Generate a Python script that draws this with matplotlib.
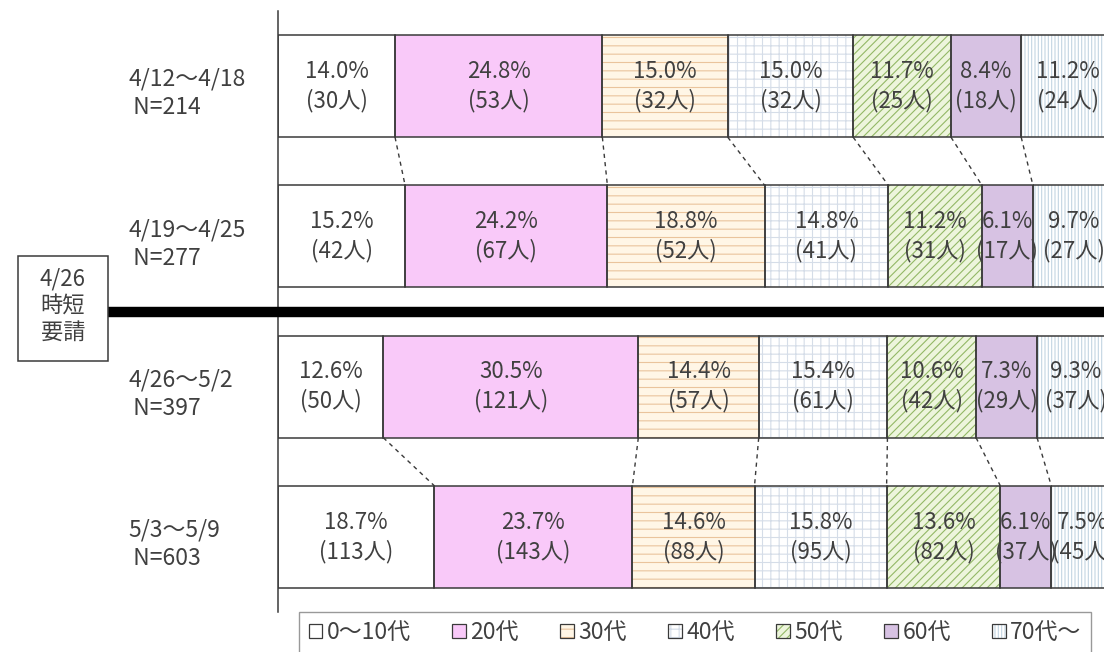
import matplotlib.pyplot as plt
from matplotlib.patches import Patch, Rectangle
from matplotlib.legend_handler import HandlerTuple
import numpy as np

plt.rcParams['font.family'] = ['Noto Sans CJK JP', 'DejaVu Sans']
plt.rcParams['hatch.linewidth'] = 0.8

# data
periods = ['4/12〜4/18', '4/19〜4/25', '4/26〜5/2', '5/3〜5/9']
totals = [214, 277, 397, 603]
ages = ['0〜10代', '20代', '30代', '40代', '50代', '60代', '70代〜']
pct_1 = [14.0, 24.8, 15.0, 15.0, 11.7, 8.4, 11.2]
pct_2 = [15.2, 24.2, 18.8, 14.8, 11.2, 6.1, 9.7]
pct_3 = [12.6, 30.5, 14.4, 15.4, 10.6, 7.3, 9.3]
pct_4 = [18.7, 23.7, 14.6, 15.8, 13.6, 6.1, 7.5]
people_1 = [30, 53, 32, 32, 25, 18, 24]
people_2 = [42, 67, 52, 41, 31, 17, 27]
people_3 = [50, 121, 57, 61, 42, 29, 37]
people_4 = [113, 143, 88, 95, 82, 37, 45]
event_label = '4/26\n時短\n要請'

pct = np.array([pct_1, pct_2, pct_3, pct_4])
people = [people_1, people_2, people_3, people_4]

# styles
face_colors = ['white', '#F9C9F9', '#FFF6E6', 'white', '#EDF5DC', '#D7C2E3', 'white']
hatches = [None, None, '--', '++', '////', None, '|||||']
hatch_colors = ['white', '#F9C9F9', '#EAC49C', '#D5DDE8', '#93B866', '#D7C2E3', '#C3D5E2']
edge = '#3A3A3A'
txt = '#404040'
bar_h = 0.68

fig = plt.figure(figsize=(11.04, 6.52), dpi=100)
ax = fig.add_axes([278 / 1104, 1 - 612 / 652, 836 / 1104, 601 / 652])

ypos = np.arange(len(periods))
lefts = np.zeros(len(periods))
for j in range(len(ages)):
    ax.barh(ypos, pct[:, j], left=lefts, height=bar_h, color=face_colors[j],
            hatch=hatches[j], edgecolor=hatch_colors[j], linewidth=0, zorder=1)
    ax.barh(ypos, pct[:, j], left=lefts, height=bar_h, fill=False,
            edgecolor=edge, linewidth=1.1, zorder=2)
    for i in range(len(periods)):
        ax.text(lefts[i] + pct[i, j] / 2, ypos[i], f'{pct[i, j]:.1f}%\n({people[i][j]}人)',
                ha='center', va='center', fontsize=16, color=txt, linespacing=1.3,
                zorder=3, clip_on=False)
    lefts += pct[:, j]

# series lines between bar pairs
cum = np.cumsum(pct, axis=1)
for a, b in [(0, 1), (2, 3)]:
    for j in range(len(ages) - 1):
        ax.plot([cum[a, j], cum[b, j]], [ypos[a] + bar_h / 2, ypos[b] - bar_h / 2],
                color=edge, linestyle=(0, (3, 3)), linewidth=1.0, zorder=2)

# period labels
for i in range(len(periods)):
    ax.text(-150 / 836 * 100, ypos[i] + 0.05, f'{periods[i]}\n N={totals[i]}',
            ha='left', va='center', fontsize=16.5, color=txt, linespacing=1.3,
            clip_on=False)

# thick separator for the request date
ax.axhline(1.5, xmin=-170 / 836, xmax=1, color='black', linewidth=7.5, clip_on=False,
           zorder=4, solid_capstyle='butt')
fig.patches.append(Rectangle((18 / 1104, 1 - 361 / 652), 90 / 1104, 105 / 652,
                             transform=fig.transFigure, facecolor='white',
                             edgecolor=edge, linewidth=1.1))
fig.text(63 / 1104, 1 - 306 / 652, event_label, ha='center', va='center', fontsize=16,
         color=txt, linespacing=1.2)

ax.set_xlim(0, 100)
ax.set_ylim(3.5, -0.5)
ax.set_xticks([])
ax.set_yticks([])
for s in ['top', 'right', 'bottom']:
    ax.spines[s].set_visible(False)
ax.spines['left'].set_color(edge)
ax.spines['left'].set_linewidth(1.1)

# legend
handles = []
for j in range(len(ages)):
    p1 = Patch(facecolor=face_colors[j], hatch=hatches[j], edgecolor=hatch_colors[j], linewidth=0)
    p2 = Patch(fill=False, edgecolor=edge, linewidth=0.9)
    handles.append((p1, p2))
fig.legend(handles, ages, handler_map={tuple: HandlerTuple(ndivide=1)},
           loc='upper center', bbox_to_anchor=(695 / 1104, 1 - 612 / 652), ncol=7,
           frameon=True, fancybox=False, edgecolor='#808080', fontsize=16.5,
           handlelength=0.6, handleheight=0.6, handletextpad=0.2, columnspacing=1.8,
           borderpad=0.4, borderaxespad=0, labelcolor=txt)

fig.savefig('out.png', dpi=100, facecolor='white')
